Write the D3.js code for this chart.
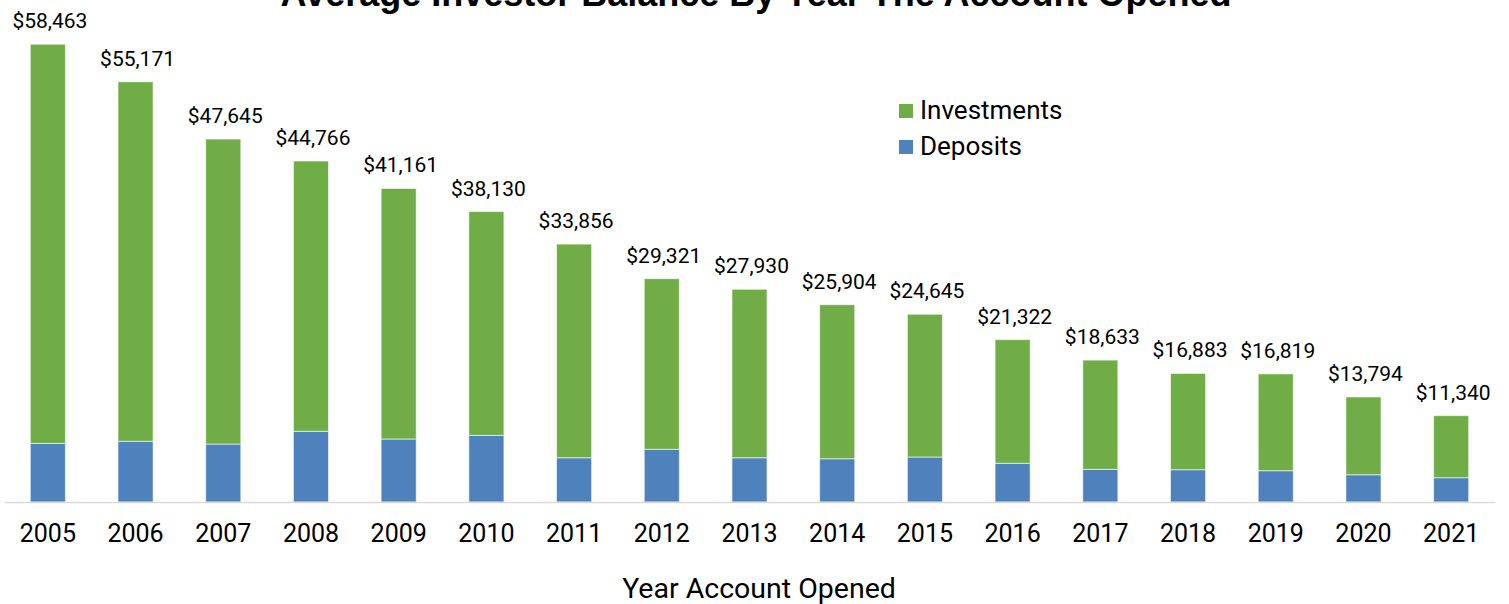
<!DOCTYPE html>
<html>
<head>
<meta charset="utf-8">
<script src="https://cdn.jsdelivr.net/npm/d3@7"></script>
<style>
  body { margin: 0; background: #fff; }
  svg text { font-family: Roboto, "Noto Sans", sans-serif; fill: #000; }
</style>
</head>
<body>
<div id="chart"></div>
<script>
var years = ["2005", "2006", "2007", "2008", "2009", "2010", "2011", "2012", "2013",
             "2014", "2015", "2016", "2017", "2018", "2019", "2020", "2021"];
var deposits = [7700, 7970, 7610, 9280, 8270, 8750, 5810, 6920, 5810,
                5680, 5910, 5080, 4290, 4240, 4110, 3580, 3190];
var investments = [52400, 47200, 40040, 35490, 32890, 29380, 28050, 22400, 22120,
                   20220, 18740, 16240, 14340, 12640, 12710, 10210, 8150];
var totals = [58463, 55171, 47645, 44766, 41161, 38130, 33856, 29321, 27930,
              25904, 24645, 21322, 18633, 16883, 16819, 13794, 11340];
var seriesNames = ["Deposits", "Investments"];
var colors = { Deposits: "#4f81bd", Investments: "#70ad47" };

var width = 1509, height = 604;
var margin = { top: 45, bottom: 102, left: 4, right: 14 };

var rows = years.map(function (y, i) {
  return { year: y, Deposits: deposits[i], Investments: investments[i], total: totals[i] };
});

var svg = d3.select("#chart").append("svg")
    .attr("width", width)
    .attr("height", height);

var x = d3.scaleBand()
    .domain(years)
    .range([margin.left, width - margin.right])
    .paddingInner(0.6)
    .paddingOuter(0.3);

var y = d3.scaleLinear()
    .domain([0, 60000])
    .range([height - margin.bottom, margin.top]);

var stack = d3.stack().keys(seriesNames);
var layers = stack(rows);

var bars = svg.append("g").selectAll("g")
  .data(layers)
  .enter().append("g")
    .attr("fill", function (d) { return colors[d.key]; });

bars.selectAll("rect")
  .data(function (d) { return d; })
  .enter().append("rect")
    .attr("x", function (d) { return x(d.data.year); })
    .attr("width", x.bandwidth())
    .attr("y", function (d) { return y(d[1]); })
    .attr("height", function (d) { return y(d[0]) - y(d[1]); })
    .attr("stroke", "#ffffff")
    .attr("stroke-opacity", 0.6)
    .attr("stroke-width", 1);

// total labels above the bars
svg.append("g").selectAll("text")
  .data(rows)
  .enter().append("text")
    .attr("x", function (d) { return x(d.year) + x.bandwidth() / 2 + 2; })
    .attr("y", function (d) { return y(d.Deposits + d.Investments) - 16; })
    .attr("text-anchor", "middle")
    .style("font-size", "21px")
    .text(function (d) { return "$" + d3.format(",")(d.total); });

// x axis
var xAxis = svg.append("g")
    .attr("transform", "translate(0," + y(0) + ")")
    .call(d3.axisBottom(x).tickSize(0).tickPadding(22));
xAxis.select(".domain")
    .attr("stroke", "#d9d9d9")
    .attr("stroke-width", 1.5);
xAxis.selectAll(".tick text")
    .style("font-size", "25px")
    .attr("fill", "#000");

svg.append("text")
    .attr("x", 759)
    .attr("y", 598)
    .attr("text-anchor", "middle")
    .style("font-size", "28.5px")
    .text("Year Account Opened");

svg.append("text")
    .attr("x", 756)
    .attr("y", 6)
    .attr("text-anchor", "middle")
    .style("font-family", "'Liberation Sans', Arial, sans-serif")
    .style("font-size", "36px")
    .style("font-weight", "bold")
    .text("Average Investor Balance By Year The Account Opened");

// legend
var legend = svg.append("g").attr("transform", "translate(899,100)");
var legendItems = legend.selectAll("g")
  .data(["Investments", "Deposits"])
  .enter().append("g")
    .attr("transform", function (d, i) { return "translate(0," + (i * 36) + ")"; });
legendItems.append("rect")
    .attr("y", 4)
    .attr("width", 14)
    .attr("height", 14)
    .attr("fill", function (d) { return colors[d]; });
legendItems.append("text")
    .attr("x", 21)
    .attr("y", 19)
    .style("font-size", "26px")
    .text(function (d) { return d; });
</script>
</body>
</html>
